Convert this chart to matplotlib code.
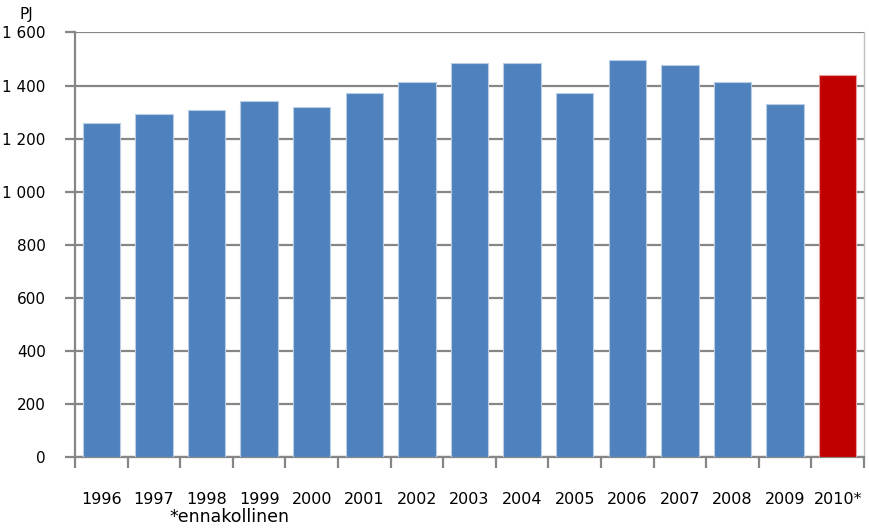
import numpy as np
import matplotlib.pyplot as plt
from matplotlib.ticker import FuncFormatter

years = ["1996", "1997", "1998", "1999", "2000", "2001", "2002", "2003",
         "2004", "2005", "2006", "2007", "2008", "2009", "2010*"]
values = [1258, 1293, 1308, 1343, 1320, 1371, 1413, 1484,
          1484, 1371, 1497, 1476, 1413, 1329, 1441]
colors = ["#4F81BD"] * 14 + ["#C00000"]
edges = ["#B9CDE5"] * 14 + ["#E6A0A0"]

grid_col = "#868686"

fig = plt.figure(figsize=(8.69, 5.29), dpi=100)
ax = fig.add_axes([0.0863, 0.1361, 0.9079, 0.8025])

x = np.arange(len(years))
ax.bar(x, values, width=0.71, color=colors, edgecolor=edges, linewidth=0.8, zorder=3)

ax.set_xlim(-0.5, len(years) - 0.5)
ax.set_ylim(0, 1600)
ax.set_yticks(np.arange(0, 1601, 200))
ax.yaxis.set_major_formatter(FuncFormatter(lambda v, p: f"{int(v):,}".replace(",", " ")))
ax.yaxis.grid(True, color=grid_col, linewidth=1.6, zorder=0)
ax.set_axisbelow(True)

ax.set_xticks(x)
ax.set_xticklabels(years)
ax.set_xticks(np.arange(-0.5, len(years), 1), minor=True)
ax.tick_params(axis="x", which="major", length=0, pad=25, labelsize=11.5)
ax.tick_params(axis="x", which="minor", length=8, width=1.6, color=grid_col)
ax.tick_params(axis="y", length=7, width=1.6, color=grid_col, pad=14, labelsize=11)

for s in ["left", "bottom"]:
    ax.spines[s].set_color(grid_col)
    ax.spines[s].set_linewidth(1.6)
ax.spines["top"].set_visible(False)
ax.spines["right"].set_color("#C0C0C0")
ax.spines["right"].set_linewidth(1.0)

fig.text(0.023, 0.972, "PJ", fontsize=11, va="center", ha="left")
fig.text(0.195, 0.022, "*ennakollinen", fontsize=12.5, va="center", ha="left")

fig.savefig("out.png", dpi=100)
